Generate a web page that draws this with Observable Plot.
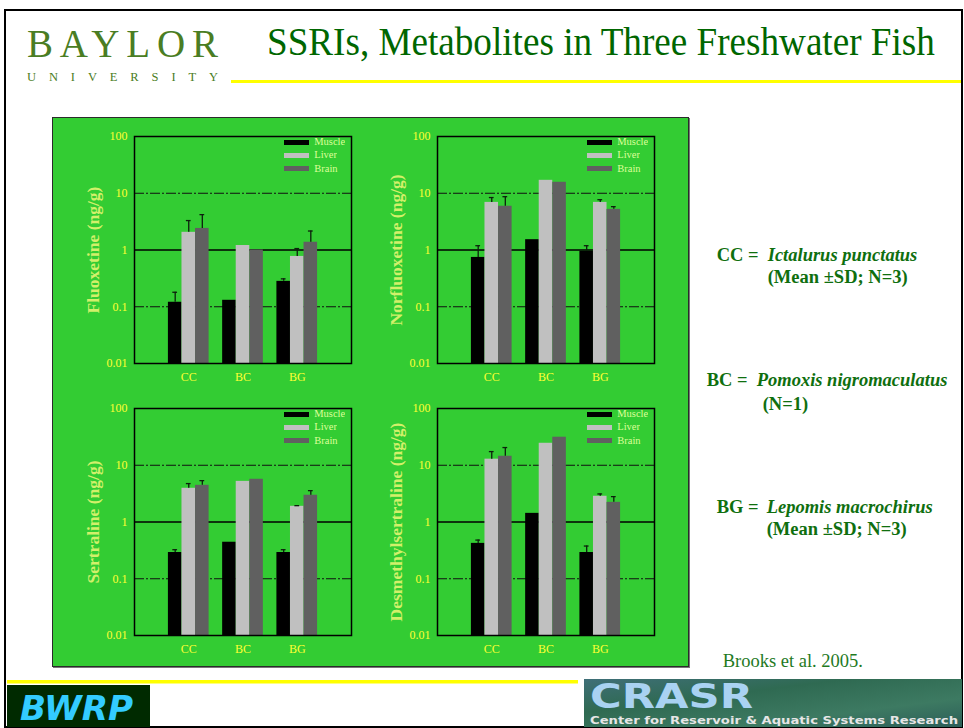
<!DOCTYPE html>
<html><head><meta charset="utf-8">
<script src="https://cdn.jsdelivr.net/npm/d3@7"></script>
<script src="https://cdn.jsdelivr.net/npm/@observablehq/plot@0.6"></script>
<style>
html,body{margin:0;padding:0;background:#fff;}
#slide{position:relative;width:964px;height:728px;overflow:hidden;font-family:"Liberation Serif","Times New Roman",serif;}
#deco{position:absolute;left:0;top:0;}
#panel{position:absolute;left:52px;top:117px;width:635px;height:548px;background:#33cc33;border:1.5px solid #2b2b2b;box-shadow:1px 1px 0 #777;}
.chart{position:absolute;width:300px;height:270px;}
.legendbox{position:absolute;left:230px;top:16px;}
.legendbox div{font-family:"Liberation Serif","Times New Roman",serif !important;font-size:10.5px !important;line-height:12.3px !important;color:#ddff99 !important;margin:0 !important;min-height:0 !important;}
</style></head><body>
<div id="slide">
<svg id="deco" width="964" height="728" font-family="Liberation Serif, Times New Roman, serif">
  <defs>
    <linearGradient id="crasrGrad" x1="0" y1="0" x2="1" y2="1">
      <stop offset="0" stop-color="#3f6f78"/>
      <stop offset="0.35" stop-color="#2f6a52"/>
      <stop offset="0.7" stop-color="#3d7a62"/>
      <stop offset="1" stop-color="#2c5e58"/>
    </linearGradient>
  </defs>
  <rect x="5" y="10" width="957" height="717" fill="none" stroke="#000" stroke-width="2"/>
  <text x="27" y="57" font-size="39" fill="#4a7d23" textLength="191" lengthAdjust="spacing">BAYLOR</text>
  <text x="27" y="81" font-size="12.5" fill="#4a7d23" textLength="191" lengthAdjust="spacing">UNIVERSITY</text>
  <g id="titleG" transform="translate(267,55)"><text id="titleT" x="0" y="0" font-size="39" fill="#006600">SSRIs, Metabolites in Three Freshwater Fish</text></g>
  <rect x="231" y="80" width="730" height="3" fill="#ffff00"/>
  <text x="716.7" y="260.7" font-weight="bold" font-size="18.5" fill="#0f6f0f">CC = <tspan x="767.7" font-style="italic">Ictalurus punctatus</tspan></text>
  <text x="767.7" y="283.3" font-weight="bold" font-size="18.5" fill="#0f6f0f">(Mean ±SD; N=3)</text>
  <text x="706.7" y="386" font-weight="bold" font-size="18.5" fill="#0f6f0f">BC = <tspan x="756.7" font-style="italic">Pomoxis nigromaculatus</tspan></text>
  <text x="762.7" y="410" font-weight="bold" font-size="18.5" fill="#0f6f0f">(N=1)</text>
  <text x="716.7" y="512.7" font-weight="bold" font-size="18.5" fill="#0f6f0f">BG = <tspan x="766.7" font-style="italic">Lepomis macrochirus</tspan></text>
  <text x="766.7" y="535" font-weight="bold" font-size="18.5" fill="#0f6f0f">(Mean ±SD; N=3)</text>
  <text x="722.7" y="667" font-size="18.5" fill="#1f7a1f">Brooks et al. 2005.</text>
  <rect x="7" y="680" width="571" height="3.5" fill="#ffff00"/>
  <rect x="7" y="685" width="143" height="42" fill="#002a00"/>
  <text x="20" y="720" font-family="DejaVu Sans Condensed, DejaVu Sans, sans-serif" font-weight="bold" font-style="italic" font-size="34" fill="#33ccff" textLength="113" lengthAdjust="spacingAndGlyphs">BWRP</text>
  <rect x="584" y="679" width="378" height="48" fill="url(#crasrGrad)"/>
  <text x="590" y="708" font-family="DejaVu Sans, sans-serif" font-weight="bold" font-size="33" fill="#a9d2f2" textLength="163" lengthAdjust="spacingAndGlyphs">CRASR</text>
  <text x="590" y="724" font-family="DejaVu Sans, sans-serif" font-weight="bold" font-size="10.5" fill="#e6e6e6" textLength="368" lengthAdjust="spacingAndGlyphs">Center for Reservoir &amp; Aquatic Systems Research</text>
</svg>
<div id="panel"></div>
<div id="c1" class="chart" style="left:54px;top:120px"></div>
<div id="c2" class="chart" style="left:357px;top:120px"></div>
<div id="c3" class="chart" style="left:54px;top:392px"></div>
<div id="c4" class="chart" style="left:357px;top:392px"></div>
</div>
<script>
const species = ["CC", "BC", "BG"];
const tissues = ["Muscle", "Liver", "Brain"];
const tissueColors = ["#000000", "#c0c0c0", "#606060"];
const yTicks = [0.01, 0.1, 1, 10, 100];
const gridDashed = [0.1, 10];
const gridSolid = [1];

// rows: species CC, BC, BG; columns: Muscle, Liver, Brain
const fluoxetineMean = [[0.12, 2.05, 2.4], [0.13, 1.2, 1.0], [0.28, 0.77, 1.37]];
const fluoxetineSD   = [[0.06, 1.25, 1.8], [null, null, null], [0.03, 0.29, 0.79]];
const norfluoxetineMean = [[0.74, 6.9, 5.9], [1.52, 16.9, 15.6], [0.95, 6.9, 5.2]];
const norfluoxetineSD   = [[0.45, 1.5, 2.8], [null, null, null], [0.24, 0.8, 0.6]];
const sertralineMean = [[0.29, 3.93, 4.43], [0.44, 5.2, 5.66], [0.29, 1.89, 2.96]];
const sertralineSD   = [[0.035, 0.82, 0.93], [null, null, null], [0.035, 0.05, 0.61]];
const desmethylMean = [[0.42, 12.8, 14.4], [1.42, 24.4, 31.2], [0.29, 2.84, 2.22]];
const desmethylSD   = [[0.06, 4.6, 6.1], [null, null, null], [0.087, 0.28, 0.58]];

const labels = ["Fluoxetine (ng/g)", "Norfluoxetine (ng/g)", "Sertraline (ng/g)", "Desmethylsertraline (ng/g)"];

// fit the slide title to its width in the reference
(function () {
  const t = document.getElementById("titleT");
  const w = t.getComputedTextLength();
  if (w > 0) document.getElementById("titleG").setAttribute("transform", `translate(267,55) scale(${668 / w},1)`);
})();

function chart(id, label, means, sds) {
  const rows = [];
  species.forEach((s, i) => tissues.forEach((t, j) =>
    rows.push({species: s, tissue: t, key: s + "|" + t, value: means[i][j], sd: sds[i][j]})));
  const errRows = rows.filter(d => d.sd != null).map(d => ({...d, upper: d.value + d.sd}));
  const keys = [];
  species.forEach((s, i) => {
    tissues.forEach(t => keys.push(s + "|" + t));
    if (i < species.length - 1) keys.push("gap" + i);
  });
  const centerKeys = species.map(s => s + "|" + tissues[1]);
  const plot = Plot.plot({
    width: 300, height: 270,
    marginLeft: 80, marginRight: 3, marginTop: 16, marginBottom: 27,
    style: {background: "transparent", color: "#ffff33", fontFamily: "Liberation Serif, Times New Roman, serif", fontSize: "12px", overflow: "visible"},
    x: {type: "band", domain: keys, paddingInner: 0, paddingOuter: 2.5, align: 0.5, round: false},
    y: {type: "log", domain: [yTicks[0], yTicks[yTicks.length - 1]]},
    color: {domain: tissues, range: tissueColors},
    marks: [
      Plot.ruleY(gridDashed, {stroke: "#111", strokeWidth: 1, strokeDasharray: "10,2,2,2"}),
      Plot.ruleY(gridSolid, {stroke: "#000", strokeWidth: 1.5}),
      Plot.barY(rows, {x: "key", y1: yTicks[0], y2: "value", fill: "tissue"}),
      Plot.ruleX(errRows, {x: "key", y1: "value", y2: "upper", stroke: "#0d200d", strokeWidth: 1.3}),
      Plot.tickY(errRows, {x: "key", y: "upper", stroke: "#0d200d", strokeWidth: 1.3, insetLeft: 4.4, insetRight: 4.4}),
      Plot.axisY({ticks: yTicks, tickFormat: d => String(d), tickSize: 0, tickPadding: 7, label: null, color: "#ffff33", fontSize: 12}),
      Plot.axisX({ticks: centerKeys, tickFormat: k => k.split("|")[0], tickSize: 0, tickPadding: 9, label: null, color: "#ffff33", fontSize: 12}),
      Plot.text([label], {text: d => d, frameAnchor: "left", textAnchor: "middle", lineAnchor: "middle", rotate: -90, dx: -41, fontWeight: "bold", fontSize: 17.5, fill: "#d2f06a"}),
      Plot.frame({stroke: "#000", strokeWidth: 1.5})
    ]
  });
  const el = document.getElementById(id);
  el.appendChild(plot);
  const leg = plot.legend("color", {legend: "swatches", columns: 1, swatchWidth: 25, swatchHeight: 5});
  const box = document.createElement("div");
  box.className = "legendbox";
  box.appendChild(leg);
  el.appendChild(box);
}

chart("c1", labels[0], fluoxetineMean, fluoxetineSD);
chart("c2", labels[1], norfluoxetineMean, norfluoxetineSD);
chart("c3", labels[2], sertralineMean, sertralineSD);
chart("c4", labels[3], desmethylMean, desmethylSD);
</script>
</body></html>
